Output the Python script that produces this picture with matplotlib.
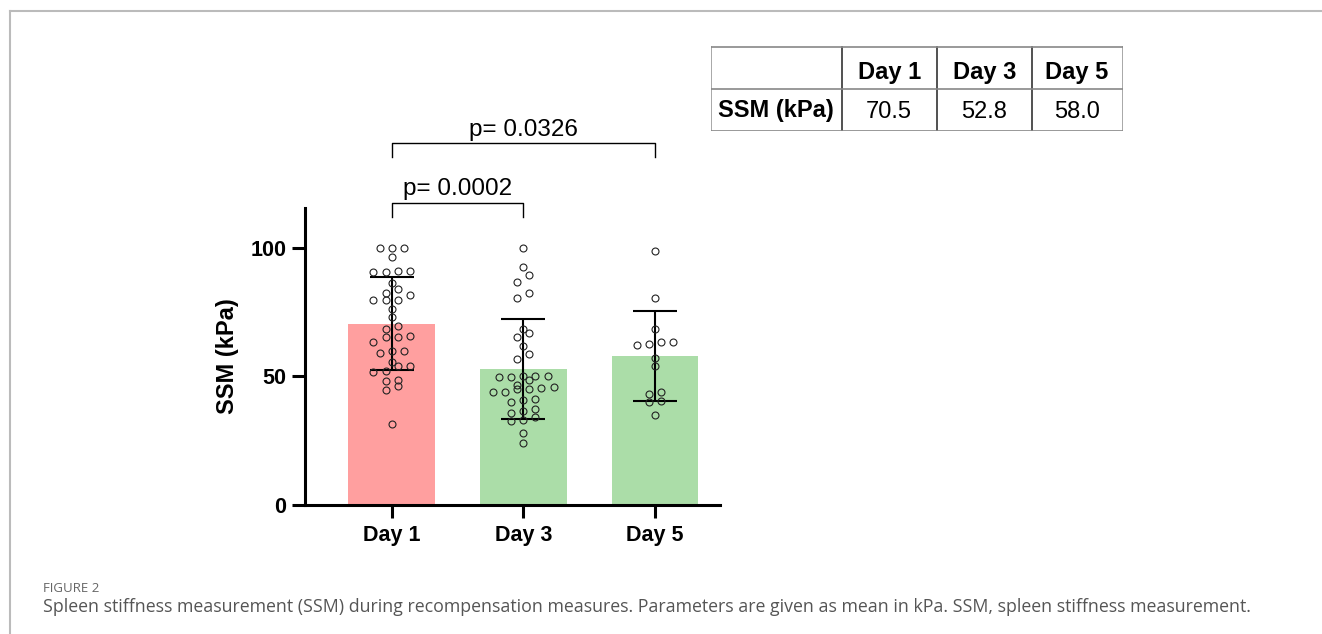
import numpy as np
import matplotlib.pyplot as plt
from matplotlib.lines import Line2D

W, H = 1322, 634

days = ['Day 1', 'Day 3', 'Day 5']
means = [70.5, 52.8, 58.0]
sds = [18.2, 19.3, 17.4]
bar_colors = ['#ff9f9f', '#abdda8', '#abdda8']

# individual SSM values (kPa)
day1 = [100, 100, 100, 96.5, 90.5, 91.0, 90.5, 91.0, 86.4, 84.0,
        81.5, 82.5, 79.8, 79.8, 79.5, 76.3, 73.0, 69.6, 68.3, 65.2,
        65.5, 65.2, 63.5, 59.7, 59.0, 59.7, 54.2, 55.5, 54.0, 52.1,
        51.8, 48.7, 48.0, 46.1, 44.8, 31.3]
day3 = [100, 92.4, 89.3, 86.7, 82.5, 80.3, 68.3, 65.4, 66.7, 61.9,
        58.7, 56.8, 48.5, 46.0, 49.9, 50.3, 50.3, 50.3, 49.9, 45.2,
        46.6, 44.0, 43.8, 45.1, 45.4, 40.9, 41.2, 39.9, 37.2, 36.4,
        35.9, 34.2, 32.5, 33.1, 27.8, 24.2]
day5 = [98.6, 80.6, 68.3, 63.5, 62.6, 62.0, 63.2, 57.1, 54.1, 43.8,
        43.1, 40.4, 40.2, 35.1]
groups = [day1, day3, day5]

comparisons = [(0, 1, 'p= 0.0002'), (0, 2, 'p= 0.0326')]

table_cols = ['', 'Day 1', 'Day 3', 'Day 5']
table_row = ['SSM (kPa)', '70.5', '52.8', '58.0']


def swarm(vals, row_h=2.7, slot=0.092):
    # rough GraphPad style: bin into rows, centre each row
    order = np.argsort(vals)
    v = np.asarray(vals)[order]
    xs = np.zeros(len(v))
    i = 0
    while i < len(v):
        j = i
        while j + 1 < len(v) and v[j + 1] - v[i] < row_h:
            j += 1
        n = j - i + 1
        xs[i:j + 1] = (np.arange(n) - (n - 1) / 2) * slot
        i = j + 1
    return xs, v


plt.rcParams['font.family'] = ['Liberation Sans', 'DejaVu Sans']

fig = plt.figure(figsize=(W / 100, H / 100), dpi=100)
ax = fig.add_axes([305 / W, 1 - 505 / H, 415 / W, 297 / H])

x = np.arange(len(days))
ax.bar(x, means, width=0.66, color=bar_colors, zorder=1)
ax.errorbar(x, means, yerr=sds, fmt='none', ecolor='black', elinewidth=1.5,
            capsize=15.5, capthick=1.5, zorder=2)
for i, g in enumerate(groups):
    dx, v = swarm(g)
    ax.plot(i + dx, v, 'o', ms=5, mfc='none', mec='#222222', mew=0.8, zorder=3)

ax.set_xlim(-0.658, 2.494)
ax.set_ylim(0, 115.4)
ax.set_yticks([0, 50, 100])
ax.set_xticks(x)
ax.set_xticklabels(days)
for sp in ['top', 'right']:
    ax.spines[sp].set_visible(False)
for sp in ['left', 'bottom']:
    ax.spines[sp].set_linewidth(2.2)
ax.tick_params(width=2.2, length=9.5, labelsize=15.5, pad=4)
ax.tick_params(axis='x', pad=5)
for lab in ax.get_xticklabels() + ax.get_yticklabels():
    lab.set_fontweight('bold')
ax.set_ylabel('SSM (kPa)', fontsize=17, fontweight='bold', labelpad=8)

# significance brackets
for k, (a, b, txt) in enumerate(comparisons):
    top = 117.5 + k * 23.1
    ax.plot([a, a, b, b], [top - 5.5, top, top, top - 5.5], color='black',
            lw=1.0, clip_on=False)
    ax.text((a + b) / 2, top + 2.8, txt, ha='center', va='baseline',
            fontsize=17.5)

# summary table
tab = fig.add_axes([711 / W, 1 - 131 / H, 412 / W, 85 / H])
tab.set_xlim(0, 412)
tab.set_ylim(85, 0)
tab.axis('off')
col_edges = [0, 130.7, 225.7, 320.7, 411.5]
row_edges = [0.5, 42.5, 84.5]
for ce in col_edges:
    c = '#333333' if 0 < ce < 411 else '#999999'
    tab.plot([ce, ce], [row_edges[0], row_edges[-1]], color=c, lw=1.2)
for re_ in row_edges:
    tab.plot([0, col_edges[-1]], [re_, re_], color='#888888', lw=1.2)
for j in range(4):
    cx = (col_edges[j] + col_edges[j + 1]) / 2
    tab.text(cx, 33.5, table_cols[j], ha='center', va='baseline',
             fontsize=17, fontweight='bold')
    tab.text(cx, 71.5, table_row[j], ha='center', va='baseline',
             fontsize=17, fontweight='bold' if j == 0 else 'normal')

# page frame and caption
fig.add_artist(Line2D([10 / W, 1], [1 - 11 / H, 1 - 11 / H], color='#bbbbbb', lw=1.5))
fig.add_artist(Line2D([10 / W, 10 / W], [0, 1 - 11 / H], color='#bbbbbb', lw=1.5))
fig.text(43 / W, 1 - 588 / H, 'FIGURE 2', fontsize=9.5, color='#666666',
         family='Open Sans', va='center')
fig.text(43 / W, 1 - 607 / H,
         'Spleen stiffness measurement (SSM) during recompensation measures. '
         'Parameters are given as mean in kPa. SSM, spleen stiffness measurement.',
         fontsize=12.8, color='#555555', family='Open Sans', va='center')

fig.savefig('out.png', dpi=100)
